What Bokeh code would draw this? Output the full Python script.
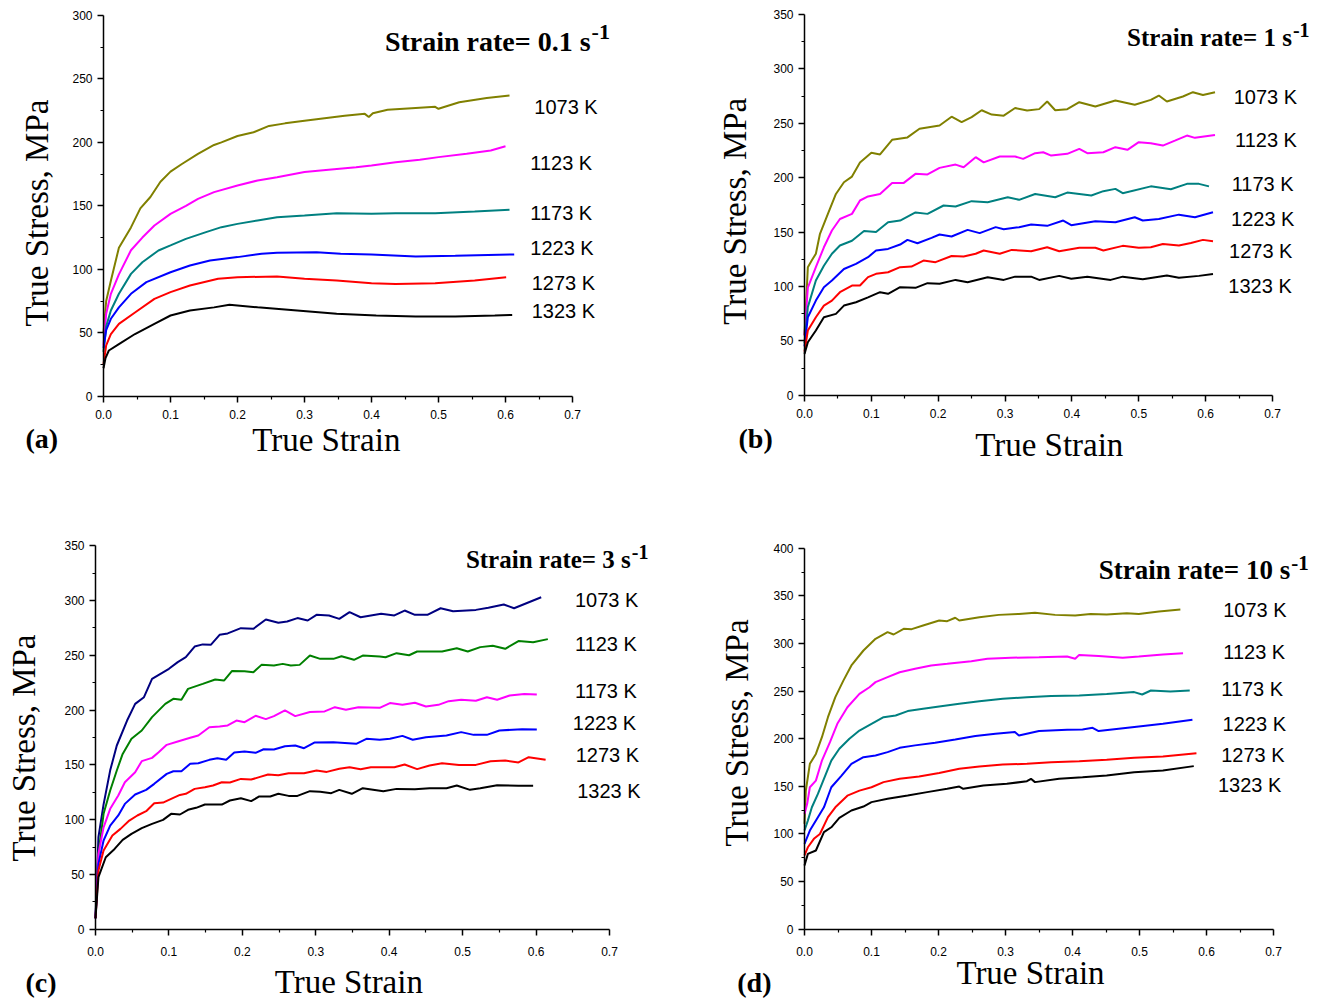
import math
from bokeh.plotting import figure
from bokeh.layouts import row, column
from bokeh.models import Label, FixedTicker, PrintfTickFormatter, Range1d, LinearAxis
from bokeh.embed import file_html
from bokeh.resources import INLINE

# ---------------- categories / labels ----------------
temps = ["1073 K", "1123 K", "1173 K", "1223 K", "1273 K", "1323 K"]
rates = ["0.1", "1", "3", "10"]
tags = ["(a)", "(b)", "(c)", "(d)"]
x_title = "True Strain"
y_title = "True Stress, MPa"
x_ticks = [0.0, 0.1, 0.2, 0.3, 0.4, 0.5, 0.6, 0.7]
x_minor = [0.05, 0.15, 0.25, 0.35, 0.45, 0.55, 0.65]
x_max = 0.7
y_max = [300, 350, 350, 400]

# ---------------- (a) strain rate 0.1 s-1 ----------------
a1073_x = [0, 0.004, 0.011, 0.023, 0.041, 0.055, 0.070, 0.085, 0.100, 0.117, 0.141, 0.165, 0.176, 0.200, 0.224, 0.247, 0.271, 0.300, 0.330, 0.360, 0.390, 0.396, 0.402, 0.424, 0.460, 0.495, 0.500, 0.531, 0.572, 0.606]
a1073_y = [50, 75, 91, 117, 133, 148, 157, 169, 177, 183, 191, 198, 200, 205, 208, 213, 215, 217, 219, 221, 222.5, 220, 223, 225.7, 227, 228, 226.5, 231.7, 235, 237]
a1123_x = [0, 0.004, 0.011, 0.023, 0.041, 0.058, 0.076, 0.100, 0.123, 0.141, 0.165, 0.200, 0.230, 0.259, 0.300, 0.336, 0.377, 0.400, 0.436, 0.472, 0.500, 0.542, 0.578, 0.600]
a1123_y = [40, 65, 80.7, 96, 115, 125, 134.5, 143.7, 150, 155.5, 160.8, 166, 170, 172.6, 176.6, 178.4, 180.5, 181.8, 184.4, 186.3, 188.4, 191, 193.6, 197]
a1173_x = [0, 0.004, 0.011, 0.023, 0.041, 0.058, 0.082, 0.100, 0.123, 0.153, 0.176, 0.200, 0.230, 0.259, 0.300, 0.348, 0.400, 0.436, 0.495, 0.554, 0.606]
a1173_y = [35, 55, 67.5, 80.7, 96.4, 105.6, 114.8, 118.8, 124, 129.3, 133.2, 135.8, 138.5, 141, 142.4, 144.2, 143.7, 144.2, 144.2, 145.6, 146.9]
a1223_x = [0, 0.004, 0.011, 0.023, 0.041, 0.064, 0.100, 0.129, 0.159, 0.200, 0.236, 0.259, 0.318, 0.354, 0.400, 0.466, 0.525, 0.613]
a1223_y = [38, 52, 61, 70, 80.7, 89.9, 97.7, 103, 107, 109.6, 112.2, 113, 113.5, 112.2, 111.7, 110, 110.6, 111.7]
a1273_x = [0, 0.004, 0.011, 0.023, 0.047, 0.076, 0.100, 0.129, 0.171, 0.200, 0.259, 0.300, 0.348, 0.400, 0.436, 0.495, 0.554, 0.601]
a1273_y = [25, 40, 49, 57, 66, 76.7, 82, 87.2, 92.5, 93.8, 94.3, 92.5, 91.2, 89, 88.5, 89, 91.2, 93.8]
a1323_x = [0, 0.003, 0.008, 0.023, 0.047, 0.076, 0.100, 0.129, 0.165, 0.188, 0.230, 0.289, 0.348, 0.407, 0.466, 0.525, 0.584, 0.610]
a1323_y = [22, 30, 36, 41, 49, 57, 63.6, 67.5, 70, 72, 70, 67.5, 65, 63.6, 62.8, 62.8, 63.6, 64]

# ---------------- (b) strain rate 1 s-1 ----------------
b1073_x = [0, 0.005, 0.011, 0.017, 0.023, 0.035, 0.047, 0.059, 0.071, 0.083, 0.100, 0.113, 0.131, 0.154, 0.172, 0.202, 0.220, 0.235, 0.250, 0.265, 0.280, 0.298, 0.315, 0.333, 0.351, 0.363, 0.375, 0.393, 0.411, 0.435, 0.465, 0.494, 0.518, 0.530, 0.542, 0.566, 0.581, 0.596, 0.614]
b1073_y = [55, 117.7, 124, 130, 148, 166.7, 185, 195.8, 201, 214, 222.8, 221.3, 234.8, 237, 245, 248, 256, 251, 255.6, 262, 258, 257, 264, 261.7, 263, 270, 262, 263, 269.4, 265.4, 270.9, 267, 271.5, 275.5, 270, 274.6, 278.6, 276, 278.6]
b1123_x = [0, 0.005, 0.017, 0.029, 0.041, 0.053, 0.071, 0.083, 0.095, 0.113, 0.131, 0.148, 0.166, 0.184, 0.202, 0.226, 0.238, 0.256, 0.268, 0.292, 0.315, 0.327, 0.345, 0.357, 0.369, 0.393, 0.411, 0.423, 0.447, 0.465, 0.483, 0.500, 0.518, 0.536, 0.554, 0.572, 0.584, 0.614]
b1123_y = [55, 99, 117.7, 136, 151.4, 162, 166.7, 179, 182.7, 185, 195, 195, 203.5, 203, 209, 212, 209.6, 218.8, 214, 219.4, 219.4, 217.3, 222.5, 223.4, 220.3, 221.9, 226.5, 222.5, 223.4, 228, 225.6, 232.6, 231.7, 229.5, 234, 238.7, 236.6, 239.3]
b1173_x = [0, 0.005, 0.017, 0.029, 0.041, 0.053, 0.071, 0.089, 0.107, 0.125, 0.143, 0.166, 0.184, 0.208, 0.226, 0.250, 0.274, 0.304, 0.321, 0.345, 0.375, 0.393, 0.429, 0.447, 0.465, 0.476, 0.518, 0.548, 0.572, 0.590, 0.605]
b1173_y = [48, 81, 105.4, 119, 130, 137.6, 142, 151, 150, 159, 160.6, 168, 166.7, 174.4, 173.5, 178.4, 177.4, 182, 179.6, 185, 182, 186.3, 183.6, 187.6, 189.7, 185.7, 192, 189.4, 194.3, 194.3, 192]
b1223_x = [0, 0.005, 0.017, 0.029, 0.041, 0.059, 0.077, 0.095, 0.107, 0.125, 0.143, 0.154, 0.169, 0.190, 0.202, 0.220, 0.244, 0.262, 0.286, 0.298, 0.321, 0.339, 0.363, 0.387, 0.399, 0.435, 0.465, 0.494, 0.506, 0.530, 0.560, 0.584, 0.611]
b1223_y = [45, 71.7, 87, 99.3, 105.4, 116, 120.7, 126.9, 133, 134.5, 138.5, 142.8, 139.7, 144.6, 147.7, 145.9, 152, 149, 154.5, 152.6, 154.5, 156.9, 155.7, 160.6, 156.3, 160, 159, 163.6, 160.6, 162, 166, 163.6, 168.2]
b1273_x = [0, 0.005, 0.017, 0.029, 0.041, 0.053, 0.071, 0.083, 0.095, 0.107, 0.125, 0.143, 0.160, 0.178, 0.196, 0.220, 0.238, 0.256, 0.268, 0.292, 0.310, 0.339, 0.363, 0.381, 0.411, 0.435, 0.447, 0.476, 0.500, 0.518, 0.536, 0.560, 0.578, 0.596, 0.611]
b1273_y = [40, 59.5, 71.7, 82.4, 87, 94.7, 100.8, 100.8, 108.5, 111.6, 113, 117.7, 118.3, 123.8, 122.3, 128, 127.5, 130, 133, 130, 133.6, 132.4, 136, 132.4, 135.5, 135.5, 133, 137.3, 135.5, 136, 139, 137.6, 140, 142.8, 141.6]
b1323_x = [0, 0.005, 0.017, 0.029, 0.047, 0.059, 0.077, 0.095, 0.113, 0.125, 0.143, 0.166, 0.184, 0.202, 0.226, 0.244, 0.274, 0.298, 0.315, 0.339, 0.351, 0.381, 0.399, 0.423, 0.458, 0.476, 0.506, 0.542, 0.560, 0.590, 0.611]
b1323_y = [38, 48.7, 59.5, 71.7, 74.8, 82.4, 85.5, 90, 94.7, 93.2, 99.3, 98.7, 103, 102.4, 106, 103.9, 108.5, 106, 109, 109, 106, 109.7, 107, 109, 106, 109, 106.6, 110, 107.9, 109.7, 111.5]

# ---------------- (c) strain rate 3 s-1 ----------------
c1073_x = [0, 0.004, 0.011, 0.020, 0.029, 0.043, 0.054, 0.066, 0.077, 0.100, 0.112, 0.123, 0.135, 0.146, 0.157, 0.169, 0.180, 0.198, 0.215, 0.232, 0.249, 0.261, 0.275, 0.289, 0.301, 0.318, 0.332, 0.346, 0.361, 0.375, 0.389, 0.407, 0.421, 0.435, 0.452, 0.470, 0.487, 0.518, 0.535, 0.556, 0.570, 0.607]
c1073_y = [10, 84, 114, 145, 167.7, 190.5, 205.7, 211.8, 228.5, 237.7, 243.8, 248.3, 258, 260, 259.6, 268.7, 270, 274.8, 274.2, 282.7, 279.7, 280.9, 284, 281.8, 287, 286.4, 283.3, 289.4, 284.8, 286.4, 287.9, 286.4, 290.9, 287, 287, 293, 290.3, 291.5, 293.4, 296.4, 293, 303]
c1123_x = [0, 0.004, 0.011, 0.020, 0.029, 0.037, 0.049, 0.063, 0.077, 0.095, 0.106, 0.117, 0.126, 0.146, 0.163, 0.175, 0.186, 0.203, 0.215, 0.226, 0.243, 0.255, 0.266, 0.278, 0.292, 0.306, 0.324, 0.335, 0.352, 0.364, 0.387, 0.395, 0.410, 0.427, 0.438, 0.472, 0.492, 0.507, 0.524, 0.541, 0.558, 0.576, 0.596, 0.616]
c1123_y = [10, 68.8, 105.3, 126.6, 144.9, 160, 173.8, 181.4, 193.6, 205.7, 210.3, 209.4, 219.4, 224, 228, 227, 235.8, 235.5, 234.6, 241.3, 240.7, 242.2, 240.7, 241.3, 249.8, 246.8, 246.8, 249.2, 245.9, 249.8, 248.9, 248.3, 252, 250.1, 253.5, 253.5, 256.5, 253.5, 257.5, 258.7, 256, 263, 262, 264.8]
c1173_x = [0, 0.004, 0.011, 0.020, 0.031, 0.040, 0.054, 0.063, 0.077, 0.086, 0.097, 0.112, 0.129, 0.140, 0.155, 0.169, 0.180, 0.192, 0.203, 0.218, 0.232, 0.243, 0.258, 0.272, 0.292, 0.312, 0.326, 0.341, 0.358, 0.387, 0.401, 0.418, 0.435, 0.450, 0.467, 0.481, 0.498, 0.518, 0.533, 0.547, 0.564, 0.584, 0.601]
c1173_y = [10, 68.8, 93, 109.9, 122, 134.2, 143.3, 153.4, 156.4, 161.6, 168.3, 171.3, 174.7, 176.8, 184.4, 185, 186, 190.5, 189, 194.8, 191.8, 194.5, 199.7, 194.5, 198.2, 198.8, 202.7, 200.3, 202.7, 202.1, 206.4, 204.8, 206.7, 203.3, 204.8, 208.2, 209.4, 208.5, 211.8, 209.4, 213.3, 214.8, 214.2]
c1223_x = [0, 0.004, 0.011, 0.020, 0.031, 0.040, 0.054, 0.069, 0.080, 0.097, 0.106, 0.117, 0.129, 0.140, 0.155, 0.166, 0.178, 0.189, 0.203, 0.218, 0.229, 0.243, 0.258, 0.272, 0.284, 0.298, 0.324, 0.355, 0.369, 0.387, 0.401, 0.418, 0.432, 0.450, 0.478, 0.498, 0.515, 0.533, 0.550, 0.581, 0.601]
c1223_y = [10, 59.6, 81, 94.6, 103.8, 114.4, 123, 127.2, 132.7, 141.8, 144.2, 144.2, 151, 151.5, 154.6, 156.1, 154.6, 161.3, 162.2, 161, 164.3, 164, 167, 167.7, 165.2, 170.4, 170.7, 169.2, 173.8, 172.9, 173.8, 176.5, 172.9, 175.3, 176.8, 179.9, 177.4, 177.4, 181.4, 182.6, 182.3]
c1273_x = [0, 0.004, 0.011, 0.023, 0.034, 0.046, 0.057, 0.069, 0.080, 0.092, 0.103, 0.115, 0.123, 0.135, 0.149, 0.160, 0.172, 0.183, 0.198, 0.212, 0.223, 0.235, 0.249, 0.263, 0.284, 0.301, 0.315, 0.332, 0.346, 0.361, 0.375, 0.407, 0.421, 0.438, 0.455, 0.472, 0.495, 0.518, 0.538, 0.558, 0.576, 0.590, 0.613]
c1273_y = [10, 53.6, 71.8, 85.5, 91.6, 99.2, 103.8, 107.7, 115, 115.6, 119, 122.6, 123.6, 128.1, 129.6, 131.2, 134.2, 133.9, 137.2, 136.6, 138.8, 141.2, 140.6, 142.4, 142.4, 144.9, 143.6, 146.4, 147.9, 146.1, 147.9, 147.9, 150.3, 146.1, 149.4, 151.5, 150, 150, 153.4, 154, 152.2, 157, 154.6]
c1323_x = [0, 0.004, 0.014, 0.026, 0.037, 0.049, 0.063, 0.077, 0.092, 0.103, 0.115, 0.126, 0.137, 0.149, 0.172, 0.183, 0.198, 0.212, 0.223, 0.238, 0.249, 0.263, 0.275, 0.292, 0.306, 0.321, 0.332, 0.349, 0.364, 0.392, 0.410, 0.435, 0.455, 0.478, 0.492, 0.510, 0.524, 0.547, 0.576, 0.596]
c1323_y = [10, 47.5, 65.7, 73.3, 81.6, 87, 92.2, 96.2, 99.8, 105.3, 104.7, 109, 110.8, 113.8, 113.8, 117.5, 119.6, 116.9, 121.2, 121.2, 123.6, 121.7, 121.7, 126, 125.4, 124.2, 127.2, 123.6, 128.7, 126, 128.1, 127.8, 128.7, 128.7, 131.2, 127.2, 128.7, 131.5, 130.9, 130.9]

# ---------------- (d) strain rate 10 s-1 ----------------
d1073_x = [0, 0.002, 0.008, 0.017, 0.026, 0.035, 0.046, 0.058, 0.070, 0.088, 0.106, 0.124, 0.133, 0.148, 0.160, 0.177, 0.201, 0.213, 0.225, 0.231, 0.261, 0.290, 0.320, 0.344, 0.374, 0.404, 0.427, 0.451, 0.481, 0.499, 0.529, 0.561]
d1073_y = [110.6, 145.6, 173.6, 184, 201.6, 222.6, 243.6, 261, 276.9, 292.6, 304.9, 311.9, 309.4, 315.4, 315, 318.9, 324.1, 323.4, 327, 324.1, 327.6, 330, 331, 332.2, 330, 329.4, 331, 330.4, 331.8, 330.8, 333.6, 335.7]
d1123_x = [0, 0.004, 0.008, 0.017, 0.026, 0.038, 0.049, 0.064, 0.082, 0.097, 0.106, 0.124, 0.142, 0.165, 0.189, 0.213, 0.249, 0.273, 0.308, 0.350, 0.392, 0.404, 0.410, 0.439, 0.475, 0.499, 0.535, 0.565]
d1123_y = [121, 131.6, 149, 156, 177, 196.4, 215.6, 233, 247, 254, 259.4, 264.6, 269.8, 273.4, 276.9, 278.6, 281.4, 283.9, 285, 285.6, 286.3, 283.9, 288, 286.7, 285, 286.3, 288.4, 289.8]
d1173_x = [0, 0.005, 0.011, 0.020, 0.029, 0.040, 0.052, 0.067, 0.082, 0.100, 0.118, 0.136, 0.154, 0.177, 0.201, 0.231, 0.261, 0.296, 0.332, 0.368, 0.410, 0.451, 0.492, 0.504, 0.517, 0.546, 0.575]
d1173_y = [103.6, 114, 128, 142, 157.7, 177, 189.4, 200, 208.6, 215.6, 222.6, 224.4, 229, 231.4, 233.8, 236.6, 239.4, 241.9, 243.6, 244.7, 245.4, 247, 248.9, 246.4, 250.6, 249.6, 250.6]
d1223_x = [0, 0.008, 0.020, 0.029, 0.040, 0.055, 0.070, 0.088, 0.106, 0.124, 0.142, 0.165, 0.195, 0.225, 0.255, 0.285, 0.314, 0.320, 0.350, 0.392, 0.415, 0.430, 0.439, 0.469, 0.499, 0.535, 0.579]
d1223_y = [89.6, 103.6, 117.6, 128, 149, 161, 173.6, 180.6, 182.4, 185.9, 190.4, 193, 195.7, 199.2, 202.8, 205.1, 207, 203.4, 208, 209.4, 209.7, 211.4, 208, 210.4, 212.8, 215.6, 219.8]
d1273_x = [0, 0.005, 0.014, 0.023, 0.035, 0.046, 0.064, 0.082, 0.100, 0.118, 0.142, 0.171, 0.201, 0.231, 0.261, 0.296, 0.332, 0.368, 0.410, 0.451, 0.492, 0.535, 0.585]
d1273_y = [77.4, 86, 94.9, 100, 117.6, 128, 140.2, 145.5, 149, 154.4, 157.9, 160.4, 163.9, 168.4, 170.8, 172.9, 173.6, 175.4, 176.4, 177.8, 179.9, 181.3, 184.8]
d1323_x = [0, 0.005, 0.017, 0.029, 0.040, 0.052, 0.070, 0.088, 0.100, 0.124, 0.154, 0.183, 0.213, 0.231, 0.237, 0.267, 0.302, 0.332, 0.338, 0.344, 0.380, 0.415, 0.451, 0.492, 0.535, 0.581]
d1323_y = [66.9, 79, 82.6, 101.9, 107, 116.9, 124.6, 128.8, 133.4, 136.9, 140.4, 143.9, 147.4, 149.8, 147.4, 150.9, 152.6, 155.4, 157.9, 154.4, 157.9, 159.6, 161.4, 164.9, 166.6, 171.2]

# ---------------- styles ----------------
colors_std = ["#808000", "#FF00FF", "#008080", "#0000FF", "#FF0000", "#000000"]
colors_c = ["#000080", "#008000", "#FF00FF", "#0000FF", "#FF0000", "#000000"]
SERIF = "Liberation Serif"
SANS = "Liberation Sans"
BASELINE_LIFT = 0.27   # fraction of font size to raise "alphabetic" anchored texts
TITLE_EXTRA_PX = 3     # extra lift for the bold strain-rate titles

# ---------------- layout (pixels inside each figure) ----------------
# figure width, height, then the pixel box of the axes: left, right, top, bottom
geom = [(700, 495, 103, 572, 15, 395.7),
        (620, 495, 104, 572, 14, 394.7),
        (700, 510, 95, 609, 50.3, 433.7),
        (620, 510, 104, 573, 52.7, 433.7)]
tick_standoff_x = [8, 8, 12, 12]

# ---------------- text positions (data units of each panel) ----------------
title_x = [0.727, 0.729, 0.729, 0.725]
title_y = [271.4, 319.9, 329.0, 366.1]
sup_y = [280.1, 327.7, 336.6, 375.5]
title_size = [28, 25, 25, 27]
sup_size = [22, 20, 20, 21]
lab_x = [[0.643, 0.637, 0.637, 0.637, 0.639, 0.639],
         [0.642, 0.644, 0.639, 0.638, 0.635, 0.634],
         [0.653, 0.653, 0.653, 0.650, 0.654, 0.656],
         [0.625, 0.625, 0.622, 0.624, 0.622, 0.617]]
lab_y = [[227.6, 183.5, 144.6, 116.9, 89.5, 66.9],
         [274.0, 234.2, 194.4, 162.1, 133.0, 100.2],
         [300.1, 259.9, 217.9, 188.4, 158.6, 126.0],
         [335.3, 290.8, 252.4, 215.6, 183.4, 151.6]]
tag_x = [-0.1164, -0.0987, -0.0953, -0.1004]
tag_y = [-39.6, -47.2, -56.0, -64.4]
xt_x = [0.3325, 0.3661, 0.345, 0.3373]
xt_y = [-41.2, -53.9, -56.0, -55.6]
yt_x = [-0.0866, -0.0905, -0.0858, -0.0873]
yt_y = [144.3, 169.1, 165.4, 206.0]
axis_title_size = 33
tag_size = 28

series = [
    [(a1073_x, a1073_y), (a1123_x, a1123_y), (a1173_x, a1173_y), (a1223_x, a1223_y), (a1273_x, a1273_y), (a1323_x, a1323_y)],
    [(b1073_x, b1073_y), (b1123_x, b1123_y), (b1173_x, b1173_y), (b1223_x, b1223_y), (b1273_x, b1273_y), (b1323_x, b1323_y)],
    [(c1073_x, c1073_y), (c1123_x, c1123_y), (c1173_x, c1173_y), (c1223_x, c1223_y), (c1273_x, c1273_y), (c1323_x, c1323_y)],
    [(d1073_x, d1073_y), (d1123_x, d1123_y), (d1173_x, d1173_y), (d1223_x, d1223_y), (d1273_x, d1273_y), (d1323_x, d1323_y)],
]
panel_colors = [colors_std, colors_std, colors_c, colors_std]


def make_panel(i):
    w, h, L, R, T, B = geom[i]
    ym = y_max[i]
    sx = x_max / (R - L)
    sy = ym / (B - T)
    xr = Range1d(-L * sx, x_max + (w - R) * sx)
    yr = Range1d(-(h - B) * sy, ym + T * sy)
    p = figure(width=w, height=h, x_range=xr, y_range=yr, title=None,
               x_axis_type=None, y_axis_type=None,
               output_backend="svg", toolbar_location=None,
               min_border_left=0, min_border_right=0, min_border_top=0, min_border_bottom=0)
    p.outline_line_color = None
    p.background_fill_color = "white"
    p.border_fill_color = "white"
    for g in p.grid:
        g.visible = False

    for (xs, ys), col in zip(series[i], panel_colors[i]):
        p.line(xs, ys, line_color=col, line_width=2)

    y_ticks = list(range(0, ym + 1, 50))
    y_minor = [t + 25 for t in y_ticks[:-1]]

    xa = LinearAxis(fixed_location=0, bounds=(0, x_max),
                    ticker=FixedTicker(ticks=x_ticks, minor_ticks=x_minor),
                    formatter=PrintfTickFormatter(format="%.1f"))
    ya = LinearAxis(fixed_location=0, bounds=(0, ym),
                    ticker=FixedTicker(ticks=y_ticks, minor_ticks=y_minor),
                    formatter=PrintfTickFormatter(format="%d"))
    for ax in (xa, ya):
        ax.axis_line_width = 1.5
        ax.axis_line_color = "black"
        ax.major_tick_line_width = 1.5
        ax.major_tick_in = 0
        ax.major_tick_out = 6
        ax.minor_tick_in = 0
        ax.minor_tick_out = 3
        ax.minor_tick_line_width = 1.2
        ax.major_label_text_font = SANS
        ax.major_label_text_font_size = "12px"
        ax.major_label_text_color = "black"
    xa.major_label_standoff = tick_standoff_x[i]
    ya.major_label_standoff = 5
    p.add_layout(xa, "below")
    p.add_layout(ya, "left")

    def up(size, extra=0):  # data-unit lift for a horizontal text of given px size
        return (BASELINE_LIFT * size + extra) * sy

    def left(size):  # data-unit shift for a rotated text of given px size
        return BASELINE_LIFT * size * sx

    # axis titles
    p.add_layout(Label(x=xt_x[i], y=xt_y[i] + up(axis_title_size), text=x_title, text_font=SERIF,
                       text_font_size="%dpx" % axis_title_size, text_color="black",
                       text_align="center", text_baseline="alphabetic"))
    p.add_layout(Label(x=yt_x[i] - left(axis_title_size), y=yt_y[i], text=y_title, text_font=SERIF,
                       text_font_size="%dpx" % axis_title_size, text_color="black", angle=math.pi / 2,
                       text_align="center", text_baseline="alphabetic"))

    # temperature labels
    for t, lx, ly in zip(temps, lab_x[i], lab_y[i]):
        p.add_layout(Label(x=lx, y=ly, text=t, text_font=SANS, text_font_size="20px",
                           text_color="black", text_align="left", text_baseline="middle"))

    # strain-rate title with superscript
    p.add_layout(Label(x=title_x[i], y=title_y[i] + up(title_size[i], TITLE_EXTRA_PX),
                       text="Strain rate= %s s" % rates[i],
                       text_font=SERIF, text_font_style="bold", text_font_size="%dpx" % title_size[i],
                       text_color="black", text_align="right", text_baseline="alphabetic"))
    p.add_layout(Label(x=title_x[i], y=sup_y[i] + up(sup_size[i], TITLE_EXTRA_PX), text="-1", x_offset=1,
                       text_font=SERIF, text_font_style="bold", text_font_size="%dpx" % sup_size[i],
                       text_color="black", text_align="left", text_baseline="alphabetic"))

    # panel tag
    p.add_layout(Label(x=tag_x[i], y=tag_y[i] + up(tag_size), text=tags[i], text_font=SERIF,
                       text_font_style="bold", text_font_size="%dpx" % tag_size, text_color="black",
                       text_align="left", text_baseline="alphabetic"))
    return p


panels = [make_panel(i) for i in range(4)]
layout = column(row(panels[0], panels[1]), row(panels[2], panels[3]))

open("out.html", "w").write(file_html(layout, INLINE))
